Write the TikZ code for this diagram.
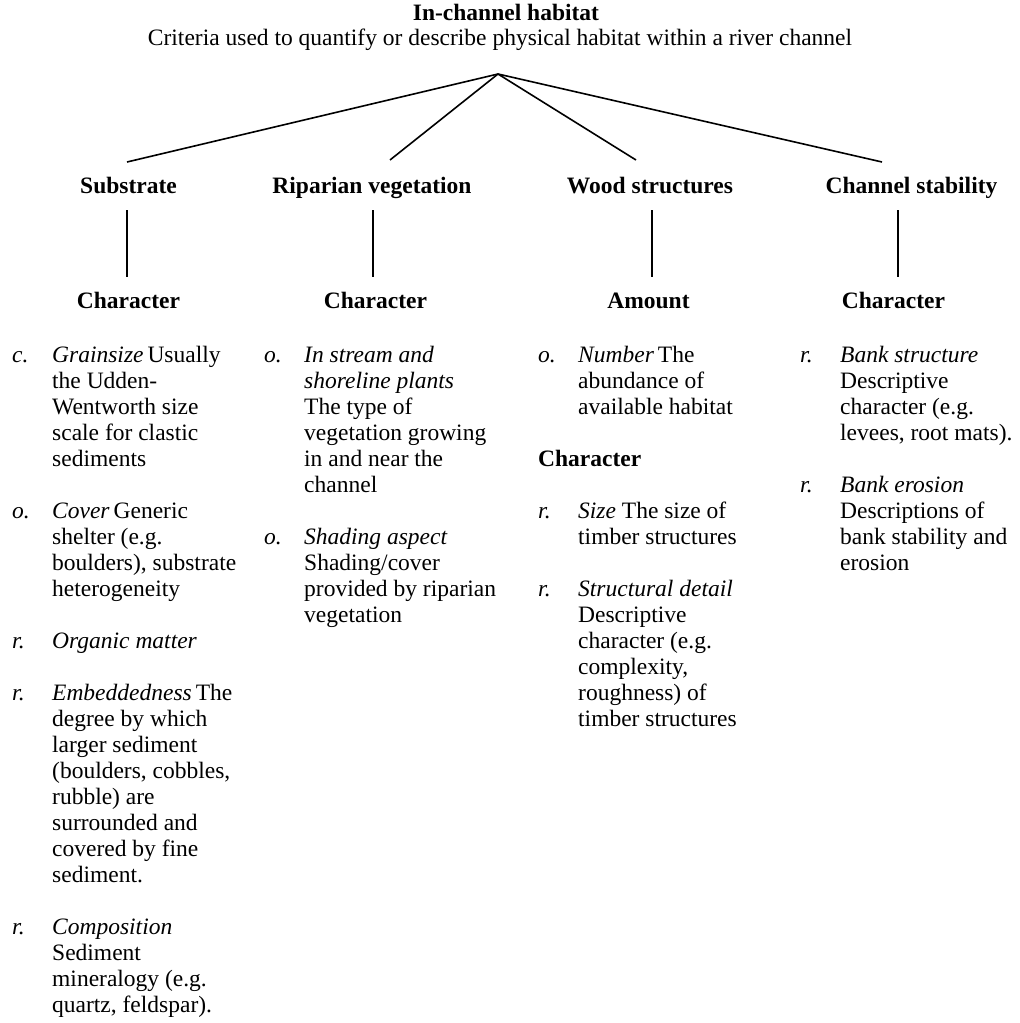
\documentclass[tikz,border=0pt]{standalone}
\usepackage{fontspec}
\setmainfont{Liberation Serif}
\newcommand{\bodysize}{\fontsize{23.5}{26}\selectfont}
\newlength{\tabind}
\setlength{\tabind}{40pt}
% one lettered entry: italic letter, then the text lines in a second column
\newcommand{\entry}[2]{\begin{tabular}[t]{@{}p{\tabind}@{}l@{}}\textit{#1} & #2\end{tabular}}
\begin{document}
\begin{tikzpicture}[x=1pt,y=-1pt,
  plain/.style={font=\bodysize, inner sep=0pt, anchor=base},
  head/.style={font=\bodysize\bfseries, inner sep=0pt, anchor=base},
  subhead/.style={font=\bodysize\bfseries, inner sep=0pt, anchor=base west},
  listitem/.style={font=\bodysize, inner sep=0pt, anchor=base west},
  link/.style={line width=1.6pt}]
\useasboundingbox (0,0) rectangle (1020,1023);

% title block
\node[head]  (title) at (506,20) {In-channel habitat};
\node[plain] (sub)   at (500,45) {Criteria used to quantify or describe physical habitat within a river channel};

% branch points
\coordinate (apex) at (498,74);
\coordinate (subEnd) at (127,162);
\coordinate (ripEnd) at (390,160);
\coordinate (woodEnd) at (636,160);
\coordinate (chanEnd) at (882,162);

% category headings
\node[head] (substrate) at (128.5,193) {Substrate};
\node[head] (riparian)  at (372,193) {Riparian vegetation};
\node[head] (wood)      at (650,193) {Wood structures};
\node[head] (channel)   at (911.5,193) {Channel stability};

\draw[link] (apex) -- (subEnd);
\draw[link] (apex) -- (ripEnd);
\draw[link] (apex) -- (woodEnd);
\draw[link] (apex) -- (chanEnd);

% stems down to the criteria
\coordinate (subA) at (127,210);  \coordinate (subB) at (127,277);
\coordinate (ripA) at (373,210);  \coordinate (ripB) at (373,277);
\coordinate (woodA) at (652,210); \coordinate (woodB) at (652,277);
\coordinate (chanA) at (898,210); \coordinate (chanB) at (898,277);
\draw[link] (subA) -- (subB);
\draw[link] (ripA) -- (ripB);
\draw[link] (woodA) -- (woodB);
\draw[link] (chanA) -- (chanB);

% criteria headings
\node[head] (subChar)  at (128.5,308) {Character};
\node[head] (ripChar)  at (375.5,308) {Character};
\node[head] (woodAmt)  at (648.5,308) {Amount};
\node[head] (chanChar) at (893.5,308) {Character};

% Substrate
\node[listitem] (s1) at (12,362) {\entry{c.}{\textit{Grainsize}\,Usually\\ & the Udden-\\ & Wentworth size\\ & scale for clastic\\ & sediments}};
\node[listitem] (s2) at (12,518) {\entry{o.}{\textit{Cover}\,Generic\\ & shelter (e.g.\\ & boulders), substrate\\ & heterogeneity}};
\node[listitem] (s3) at (12,648) {\entry{r.}{\textit{Organic matter}}};
\node[listitem] (s4) at (12,700) {\entry{r.}{\textit{Embeddedness}\,The\\ & degree by which\\ & larger sediment\\ & (boulders, cobbles,\\ & rubble) are\\ & surrounded and\\ & covered by fine\\ & sediment.}};
\node[listitem] (s5) at (12,934) {\entry{r.}{\textit{Composition}\\ & Sediment\\ & mineralogy (e.g.\\ & quartz, feldspar).}};

% Riparian vegetation
\node[listitem] (r1) at (264,362) {\entry{o.}{\textit{In stream and}\\ & \textit{shoreline plants}\\ & The type of\\ & vegetation growing\\ & in and near the\\ & channel}};
\node[listitem] (r2) at (264,544) {\entry{o.}{\textit{Shading aspect}\\ & Shading/cover\\ & provided by riparian\\ & vegetation}};

% Wood structures
\node[listitem] (w1) at (538,362) {\entry{o.}{\textit{Number}\,The\\ & abundance of\\ & available habitat}};
\node[subhead]  (woodChar) at (538,466) {Character};
\node[listitem] (w2) at (538,518) {\entry{r.}{\textit{Size} The size of\\ & timber structures}};
\node[listitem] (w3) at (538,596) {\entry{r.}{\textit{Structural detail}\\ & Descriptive\\ & character (e.g.\\ & complexity,\\ & roughness) of\\ & timber structures}};

% Channel stability
\node[listitem] (c1) at (800,362) {\entry{r.}{\textit{Bank structure}\\ & Descriptive\\ & character (e.g.\\ & levees, root mats).}};
\node[listitem] (c2) at (800,492) {\entry{r.}{\textit{Bank erosion}\\ & Descriptions of\\ & bank stability and\\ & erosion}};
\end{tikzpicture}
\end{document}
